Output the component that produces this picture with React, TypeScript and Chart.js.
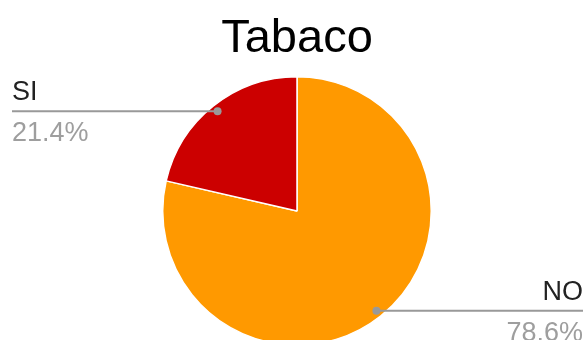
import React, { useEffect, useRef } from "react";
import { Chart, registerables } from "chart.js";

Chart.register(...registerables);

const titleText = "Tabaco";
const categories = ["NO", "SI"];
const values = [78.6, 21.4];
const colors = ["#ff9900", "#cc0000"];

const FONT = "'Liberation Sans', Arial, sans-serif";

const labelPlugin = {
  id: "pieLabels",
  afterDraw(chart: any) {
    const ctx = chart.ctx;
    const meta = chart.getDatasetMeta(0);
    const W = chart.width;
    ctx.save();
    // title
    ctx.fillStyle = "#000000";
    ctx.font = `47px ${FONT}`;
    ctx.textAlign = "center";
    ctx.textBaseline = "alphabetic";
    ctx.fillText(titleText, 297, 52);

    const total = values.reduce((a, b) => a + b, 0);
    meta.data.forEach((arc: any, i: number) => {
      const p = arc.getProps(["x", "y", "startAngle", "endAngle", "outerRadius"], true);
      const mid = (p.startAngle + p.endAngle) / 2;
      const dx = p.x + Math.cos(mid) * p.outerRadius * 0.95;
      const dy = p.y + Math.sin(mid) * p.outerRadius * 0.95;
      const right = Math.cos(mid) >= 0;
      const edgeX = right ? W - 2 : 12;
      ctx.strokeStyle = "#999999";
      ctx.lineWidth = 2;
      ctx.beginPath();
      ctx.moveTo(dx, dy);
      ctx.lineTo(edgeX, dy);
      ctx.stroke();
      ctx.fillStyle = "#999999";
      ctx.beginPath();
      ctx.arc(dx, dy, 4, 0, Math.PI * 2);
      ctx.fill();
      ctx.font = `27px ${FONT}`;
      ctx.textAlign = right ? "right" : "left";
      ctx.fillStyle = "#222222";
      ctx.fillText(categories[i], edgeX, dy - 11);
      ctx.fillStyle = "#9e9e9e";
      const pct = ((values[i] / total) * 100).toFixed(1) + "%";
      ctx.fillText(pct, edgeX, dy + 30);
    });
    ctx.restore();
  },
};

export default function App() {
  const ref = useRef<HTMLCanvasElement | null>(null);
  useEffect(() => {
    if (!ref.current) return;
    const chart = new Chart(ref.current, {
      type: "pie",
      data: {
        labels: categories,
        datasets: [
          {
            data: values,
            backgroundColor: colors,
            borderColor: "#ffffff",
            borderWidth: 1.5,
          },
        ],
      },
      options: {
        animation: false,
        responsive: true,
        maintainAspectRatio: false,
        layout: { padding: { top: 76, bottom: 14, left: 9, right: 0 } },
        plugins: {
          legend: { display: false },
          title: { display: false },
          tooltip: { enabled: false },
        },
      },
      plugins: [labelPlugin],
    });
    return () => chart.destroy();
  }, []);
  return (
    <div
      style={{
        position: "fixed",
        left: 0,
        top: 0,
        width: 585,
        height: 340,
        overflow: "hidden",
        background: "#ffffff",
      }}
    >
      <div style={{ position: "relative", width: 585, height: 360 }}>
        <canvas ref={ref} />
      </div>
    </div>
  );
}
